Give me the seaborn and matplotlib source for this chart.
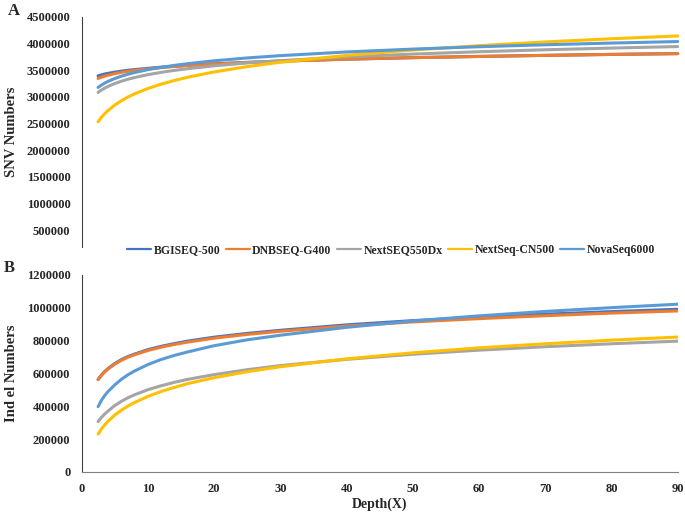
import numpy as np
import matplotlib
matplotlib.use("Agg")
import matplotlib.pyplot as plt
import seaborn as sns
import pandas as pd

# data
depth = [2.5, 3, 3.5, 4, 5, 6, 7, 8, 10, 12, 14, 16, 20, 25, 30, 40, 50, 60, 70, 80, 90]
platforms = ["BGISEQ-500", "DNBSEQ-G400", "NextSEQ550Dx", "NextSeq-CN500", "NovaSeq6000"]
colors = ["#4472C4", "#ED7D31", "#A5A5A5", "#FFC000", "#5B9BD5"]

snv_bgiseq = [3395000, 3413000, 3429000, 3442000, 3464000, 3483000, 3499000, 3512000, 3536000, 3558000, 3576000,
              3592000, 3620000, 3648000, 3671000, 3708000, 3736000, 3759000, 3779000, 3797000, 3812000]
snv_dnbseq = [3346000, 3370000, 3390000, 3407000, 3436000, 3460000, 3480000, 3497000, 3526000, 3550000, 3570000,
              3587000, 3616000, 3645000, 3669000, 3707000, 3736000, 3759000, 3779000, 3797000, 3812000]
snv_nextseq550 = [3084000, 3128000, 3165000, 3197000, 3250000, 3294000, 3331000, 3363000, 3417000, 3460000, 3497000,
                  3529000, 3583000, 3637000, 3680000, 3749000, 3803000, 3847000, 3884000, 3916000, 3944000]
snv_nextseqcn = [2534000, 2616000, 2686000, 2745000, 2846000, 2928000, 2997000, 3057000, 3157000, 3239000, 3308000,
                 3368000, 3468000, 3568000, 3650000, 3779000, 3880000, 3961000, 4031000, 4091000, 4143000]
snv_novaseq = [3178000, 3222000, 3259000, 3291000, 3344000, 3388000, 3425000, 3457000, 3511000, 3554000, 3591000,
               3623000, 3677000, 3731000, 3774000, 3843000, 3897000, 3941000, 3978000, 4010000, 4038000]

indel_bgiseq = [564000, 590000, 612000, 630000, 660000, 684000, 703000, 718000, 745000, 765000, 782000,
                797000, 821000, 844000, 863000, 896000, 922000, 942000, 961000, 977000, 991000]
indel_dnbseq = [562000, 588000, 609000, 627000, 656000, 680000, 699000, 714000, 740000, 760000, 777000,
                791000, 815000, 838000, 857000, 889000, 914000, 934000, 952000, 968000, 981000]
indel_nextseq550 = [307000, 332000, 353000, 371000, 404000, 430000, 452000, 470000, 501000, 525000, 546000,
                    564000, 593000, 623000, 648000, 686000, 717000, 742000, 763000, 781000, 797000]
indel_nextseqcn = [231000, 261000, 287000, 309000, 346000, 376000, 401000, 423000, 460000, 490000, 515000,
                   538000, 574000, 611000, 641000, 689000, 726000, 756000, 781000, 803000, 822000]
indel_novaseq = [398000, 436000, 466000, 490000, 530000, 564000, 592000, 615000, 654000, 685000, 710000,
                 731000, 769000, 805000, 833000, 881000, 920000, 951000, 978000, 1001000, 1022000]

snv = [snv_bgiseq, snv_dnbseq, snv_nextseq550, snv_nextseqcn, snv_novaseq]
indel = [indel_bgiseq, indel_dnbseq, indel_nextseq550, indel_nextseqcn, indel_novaseq]


def to_long(series):
    rows = []
    for name, vals in zip(platforms, series):
        for d, v in zip(depth, vals):
            rows.append({"Depth": d, "Value": v, "Platform": name})
    return pd.DataFrame(rows)


sns.set_style("white")
plt.rcParams["font.family"] = ["Liberation Serif", "DejaVu Serif"]
plt.rcParams["font.weight"] = "bold"

fig = plt.figure(figsize=(6.85, 5.13), dpi=100)
ax1 = fig.add_axes([0.119, 0.519, 0.880, 0.448])
ax2 = fig.add_axes([0.119, 0.080, 0.871, 0.384])

pal = dict(zip(platforms, colors))
sns.lineplot(data=to_long(snv), x="Depth", y="Value", hue="Platform",
             hue_order=platforms, palette=pal, linewidth=2.2, ax=ax1, legend=False)
sns.lineplot(data=to_long(indel), x="Depth", y="Value", hue="Platform",
             hue_order=platforms, palette=pal, linewidth=2.2, ax=ax2)

# top panel
ax1.set_xlim(0, 91)
ax1.set_ylim(190000, 4500000)
ax1.set_yticks(np.arange(500000, 4500001, 500000))
ax1.set_yticklabels([str(v) for v in range(500000, 4500001, 500000)])
ax1.set_xticks([])
ax1.set_xlabel("")
ax1.set_ylabel("SNV Numbers", fontsize=10.5, fontweight="bold", labelpad=6)
for s in ["top", "right", "bottom"]:
    ax1.spines[s].set_visible(False)

# bottom panel
ax2.set_xlim(0, 90)
ax2.set_ylim(0, 1200000)
ax2.set_xticks(np.arange(0, 91, 10))
ax2.set_yticks(np.arange(0, 1200001, 200000))
ax2.set_yticklabels([str(v) for v in range(0, 1200001, 200000)])
ax2.set_xlabel("Depth(X)", fontsize=10, fontweight="bold", labelpad=2)
ax2.set_ylabel("Ind el Numbers", fontsize=10.5, fontweight="bold", labelpad=6)
for s in ["top", "right"]:
    ax2.spines[s].set_visible(False)

for ax in (ax1, ax2):
    ax.spines["left"].set_color("#404040")
    ax.spines["bottom"].set_color("#808080")
    ax.tick_params(length=0, labelsize=9, pad=8)
    for lab in ax.get_xticklabels() + ax.get_yticklabels():
        lab.set_fontweight("bold")

handles, labels = ax2.get_legend_handles_labels()
ax2.get_legend().remove()
leg = fig.legend(handles, labels, loc="center", bbox_to_anchor=(0.571, 0.512), ncol=5,
                 frameon=False, handlelength=2.0, handletextpad=0.2,
                 columnspacing=0.5, prop={"weight": "bold", "size": 8.5})
for h in leg.get_lines():
    h.set_linewidth(1.6)

fig.text(0.012, 0.978, "A", fontsize=12, fontweight="bold", ha="left", va="center")
fig.text(0.006, 0.478, "B", fontsize=12, fontweight="bold", ha="left", va="center")

fig.savefig("out.png", dpi=100)
